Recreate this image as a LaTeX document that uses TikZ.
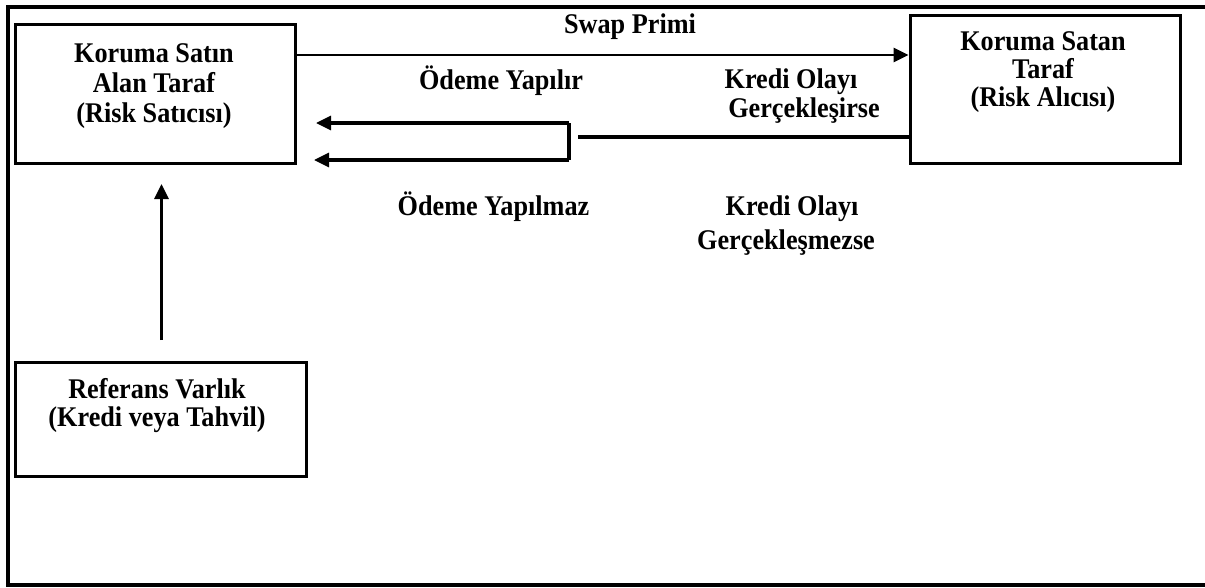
\documentclass[tikz,border=0pt]{standalone}
\usepackage{fontspec}
\usepackage{graphicx}
\setmainfont{Liberation Serif}
\usetikzlibrary{arrows.meta}
% bold, slightly condensed text block
\newcommand{\cond}[2][30]{\fontsize{28.5}{#1}\selectfont\bfseries\scalebox{0.92}[1]{\begin{tabular}{@{}c@{}}#2\end{tabular}}}
\begin{document}
\begin{tikzpicture}[x=1pt,y=-1pt,
  box/.style={draw, line width=3pt, inner sep=0pt},
  lbl/.style={inner sep=0pt},
  flow/.style={line width=3.2pt, -{Triangle[length=15pt,width=14pt]}},
  link/.style={line width=3.2pt}
]
\useasboundingbox (0,0) rectangle (1205,587);
% outer frame (open on the right)
\draw[line width=4.5pt] (1210,7) -- (8,7) -- (8,585) -- (1210,585);

% parties
\node[box, minimum width=280pt, minimum height=139pt] (buyer) at (155,93.5) {};
\node[lbl] (buyertxt) at (154,86) {\cond{Koruma Satın\\Alan Taraf\\(Risk Satıcısı)}};

\node[box, minimum width=270pt, minimum height=148pt] (seller) at (1045,89) {};
\node[lbl] (sellertxt) at (1043,73) {\cond[27.5]{Koruma Satan\\Taraf\\(Risk Alıcısı)}};

\node[box, minimum width=291pt, minimum height=114pt] (ref) at (160.5,419) {};
\node[lbl] (reftxt) at (157,407) {\cond[27.5]{Referans Varlık\\(Kredi veya Tahvil)}};

% premium leg
\draw[line width=2.8pt, -{Triangle[length=15pt,width=14pt]}] (buyer.east |- 0,55) -- (seller.west |- 0,55);
\node[lbl] (prem) at (630,27) {\cond{Swap Primi}};

% protection leg
\coordinate (split) at (578,137);
\coordinate (bt) at (569,123);
\coordinate (bb) at (569,160);
\coordinate (tipA) at (316,123);
\coordinate (tipB) at (314,160);
\draw[link] (seller.west |- split) -- (split);
\draw[link] (bb) -- (bt);
\draw[flow] (bt) -- (tipA);
\draw[flow] (bb) -- (tipB);

\node[lbl] (paid) at (501,82) {\cond{Ödeme Yapılır}};
\node[lbl] (ev1a) at (791,82) {\cond{Kredi Olayı}};
\node[lbl] (ev1b) at (804,111) {\cond{Gerçekleşirse}};

\node[lbl] (unpaid) at (493.5,208) {\cond{Ödeme Yapılmaz}};
\node[lbl] (ev2a) at (792,209) {\cond{Kredi Olayı}};
\node[lbl] (ev2b) at (786,243) {\cond{Gerçekleşmezse}};

% reference asset link
\coordinate (upbase) at (161.5,340);
\coordinate (uptip) at (161.5,184);
\draw[flow] (upbase) -- (uptip);
\end{tikzpicture}
\end{document}
